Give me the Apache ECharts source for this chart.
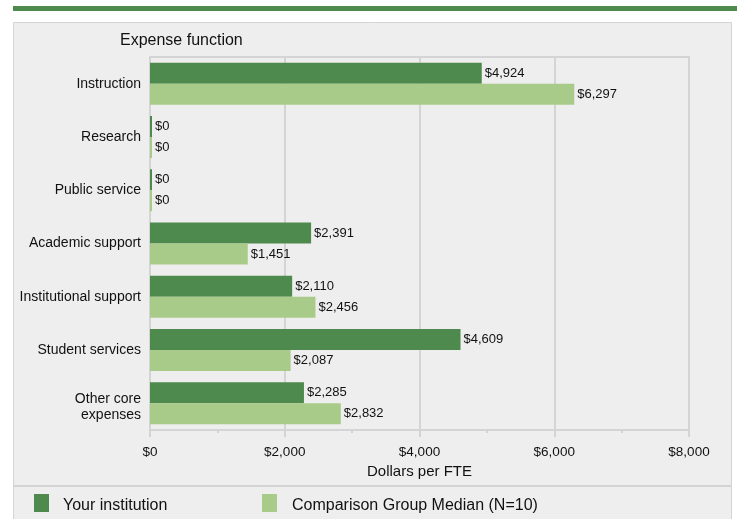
<!DOCTYPE html>
<html><head><meta charset="utf-8">
<script src="https://cdn.jsdelivr.net/npm/echarts@6/dist/echarts.min.js"></script>
<style>html,body{margin:0;padding:0;background:#fff}#c{width:737px;height:519px}</style>
</head><body><div id="c"></div>
<script>
const categories = ["Instruction","Research","Public service","Academic support","Institutional support","Student services","Other core\nexpenses"];
const yourInstitution = [4924,0,0,2391,2110,4609,2285];
const comparisonMedian = [6297,0,0,1451,2456,2087,2832];
const seriesNames = ["Your institution","Comparison Group Median (N=10)"];
const xTicks = {min:0,max:8000,interval:2000};

const FONT = "Liberation Sans, Arial, sans-serif";
const chart = echarts.init(document.getElementById('c'), null, {renderer:'canvas'});
const fmt = v => '$' + v.toLocaleString('en-US');
const lbl = {show:true, position:'right', distance:3, color:'#111', fontSize:13, fontFamily:FONT, formatter:p=>fmt(p.value)};
const legText = {fontSize:16, fontFamily:FONT, color:'#111', rich:{t:{fontSize:16, fontFamily:FONT, color:'#111', padding:[5,0,0,0]}}};
const catRich = {
  p:{fontSize:14, fontFamily:FONT, color:'#111', lineHeight:16, padding:[8,0,0,0], align:'right'},
  m:{fontSize:14, fontFamily:FONT, color:'#111', lineHeight:16, padding:[8,0,0,0], align:'right'}
};
chart.setOption({
  animation:false,
  backgroundColor:'#ffffff',
  graphic:[
    {type:'rect', shape:{x:13,y:6,width:724,height:5}, style:{fill:'#4e8a4e'}, z:-10},
    {type:'rect', shape:{x:13.5,y:22.5,width:718,height:520}, style:{fill:'#eeeeee', stroke:'#d4d4d4', lineWidth:1}, z:-10},
    {type:'line', shape:{x1:13,y1:486,x2:732,y2:486}, style:{stroke:'#d4d4d4', lineWidth:2}, z:-9},
    {type:'text', left:120, top:33, style:{text:'Expense function', font:'16px '+FONT, fill:'#111'}}
  ],
  legend:[
    {data:[seriesNames[0]], left:29, top:489, icon:'rect', itemWidth:15, itemHeight:18,
     formatter:n=>'{t|'+n+'}', textStyle:Object.assign({padding:[0,0,0,9]}, legText), selectedMode:false},
    {data:[seriesNames[1]], left:257, top:489, icon:'rect', itemWidth:15, itemHeight:18,
     formatter:n=>'{t|'+n+'}', textStyle:Object.assign({padding:[0,0,0,10]}, legText), selectedMode:false}
  ],
  grid:{left:150, right:48, top:57, bottom:89, show:true, borderColor:'#d4d4d4', borderWidth:2, backgroundColor:'transparent'},
  xAxis:{type:'value', min:xTicks.min, max:xTicks.max, interval:xTicks.interval,
    name:'Dollars per FTE', nameLocation:'middle', nameGap:27,
    nameTextStyle:{fontSize:15, fontFamily:FONT, color:'#111'},
    axisLine:{show:true, lineStyle:{color:'#d4d4d4', width:2}},
    axisTick:{show:true, length:7, lineStyle:{color:'#d4d4d4', width:2}},
    minorTick:{show:true, splitNumber:2, length:3, lineStyle:{color:'#d4d4d4', width:2}},
    splitLine:{show:true, lineStyle:{color:'#d4d4d4', width:2}},
    axisLabel:{margin:15, fontSize:13.5, fontFamily:FONT, color:'#111', formatter:v=>fmt(v)}},
  yAxis:{type:'category', data:categories, inverse:true,
    axisLine:{show:true, lineStyle:{color:'#d4d4d4', width:2}},
    axisTick:{show:false},
    axisLabel:{margin:9, fontSize:14, fontFamily:FONT, color:'#111', align:'right', lineHeight:16,
      rich:catRich,
      formatter:v=>{const ls=v.split('\n'); return ls.length>1 ? '{p|'+ls[0]+'}\n{m|'+ls.slice(1).join('\n')+'}' : v;}}},
  series:[
    {name:seriesNames[0], type:'bar', data:yourInstitution, barWidth:21, barGap:'0%', barMinHeight:2,
     itemStyle:{color:'#4e8a4e'}, label:lbl},
    {name:seriesNames[1], type:'bar', data:comparisonMedian, barWidth:21, barGap:'0%', barMinHeight:2,
     itemStyle:{color:'#a9cb89'}, label:lbl}
  ]
});
</script></body></html>
